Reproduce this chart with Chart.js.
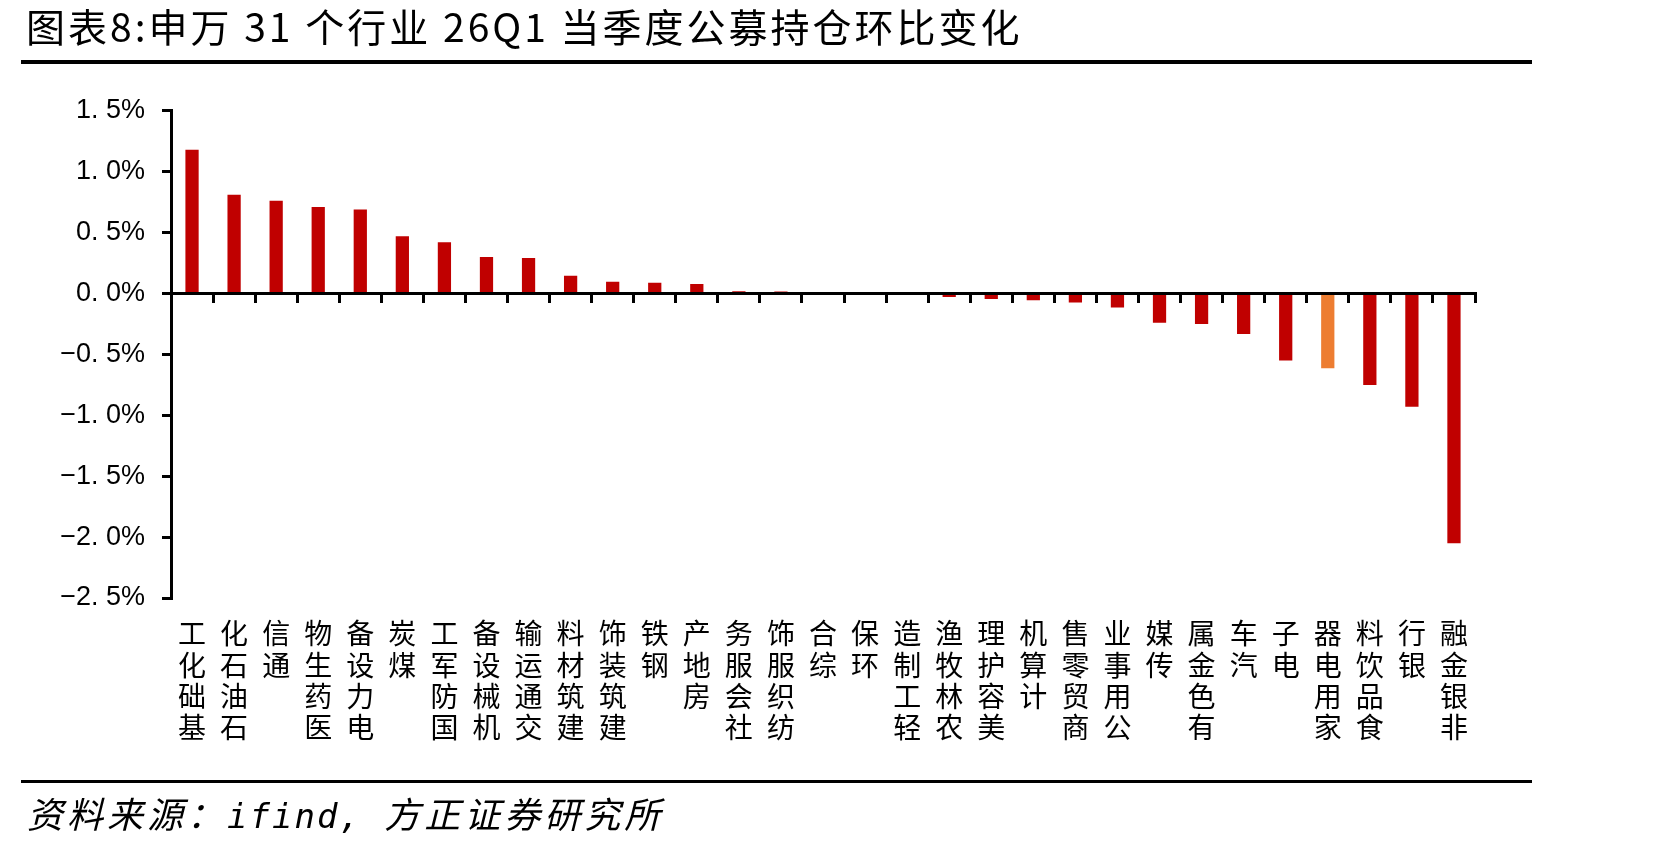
<!DOCTYPE html>
<html><head><meta charset="utf-8">
<script src="https://cdn.jsdelivr.net/npm/chart.js@4.4.1/dist/chart.umd.min.js"></script>
<style>
html,body{margin:0;padding:0;background:#fff;}
#wrap{position:relative;width:1671px;height:850px;overflow:hidden;background:#fff;}
#title{position:absolute;left:26px;top:6px;font-family:"Noto Sans CJK SC";font-size:39px;line-height:1;letter-spacing:3px;color:#000;white-space:nowrap;}
.rule{position:absolute;left:21px;width:1511px;background:#000;}
#src{position:absolute;left:27px;top:794px;font-family:"Noto Sans CJK SC";font-size:36px;line-height:1;font-style:italic;letter-spacing:4px;color:#000;white-space:nowrap;}
#src .m{font-family:"DejaVu Sans Mono";font-size:34px;letter-spacing:2px;}
canvas{position:absolute;left:0;top:0;}
</style></head>
<body><div id="wrap">
<canvas id="c" width="1671" height="850"></canvas>
<div id="title">图表8:申万 31 个行业 26Q1 当季度公募持仓环比变化</div>
<div class="rule" style="top:60px;height:4px"></div>
<div class="rule" style="top:779.5px;height:3.5px"></div>
<div id="src">资料来源：<span class="m">ifind, </span>方正证券研究所</div>
</div>
<script>
const categories = ["基础化工","石油石化","通信","医药生物","电力设备","煤炭","国防军工","机械设备","交通运输","建筑材料","建筑装饰","钢铁","房地产","社会服务","纺织服饰","综合","环保","轻工制造","农林牧渔","美容护理","计算机","商贸零售","公用事业","传媒","有色金属","汽车","电子","家用电器","食品饮料","银行","非银金融"];
const values = [1.18,0.81,0.76,0.71,0.69,0.47,0.42,0.30,0.29,0.145,0.095,0.087,0.077,0.017,0.015,0,0,0,-0.03,-0.045,-0.055,-0.075,-0.115,-0.24,-0.25,-0.333,-0.55,-0.615,-0.752,-0.93,-2.05];
const highlighted = ["家用电器"];
const yMin = -2.5, yMax = 1.5, yStep = 0.5;
const colorMain = "#C00000", colorHighlight = "#ED7D31";

const fmt = v => (v < -1e-9 ? "\u2212" : "") + Math.abs(v).toFixed(1).replace(".", ". ") + "%";

new Chart(document.getElementById("c"), {
  type: "bar",
  data: {
    labels: categories,
    datasets: [{
      data: values,
      backgroundColor: categories.map(c => highlighted.includes(c) ? colorHighlight : colorMain),
      borderWidth: 0,
      categoryPercentage: 1,
      barPercentage: 0.315,
      xAxisID: "x",
      yAxisID: "y"
    }]
  },
  options: {
    responsive: false,
    devicePixelRatio: 1,
    animation: false,
    layout: { padding: { top: 110.7, right: 196, left: 0, bottom: 0 } },
    plugins: { legend: { display: false }, tooltip: { enabled: false }, title: { display: false } },
    scales: {
      y: {
        position: "left",
        min: yMin, max: yMax,
        afterFit: s => { s.width = 171; },
        ticks: { stepSize: yStep, callback: v => fmt(v), color: "#000", padding: 17,
                 font: { family: "Liberation Sans", size: 27 } },
        grid: { drawOnChartArea: false, drawTicks: true, tickLength: 9, lineWidth: 3, color: "#000" },
        border: { display: true, width: 3, color: "#000" }
      },
      x: {
        type: "category",
        position: { y: 0 },
        offset: true,
        z: 1,
        ticks: { display: false, autoSkip: false },
        grid: { offset: true, drawOnChartArea: false, drawTicks: true, tickLength: 8, lineWidth: 3, color: "#000" },
        border: { display: true, width: 3, color: "#000" }
      },
      x2: {
        type: "category",
        position: "bottom",
        offset: true,
        afterFit: s => { s.height = 252; },
        ticks: { autoSkip: false, maxRotation: 0, minRotation: 0, padding: 12, color: "#000",
                 font: { family: "Noto Sans CJK SC", size: 28, lineHeight: 1.12 },
                 callback: (v, i) => categories[i].split("").reverse() },
        grid: { display: false },
        border: { display: false }
      }
    }
  }
});
</script>
</body></html>
